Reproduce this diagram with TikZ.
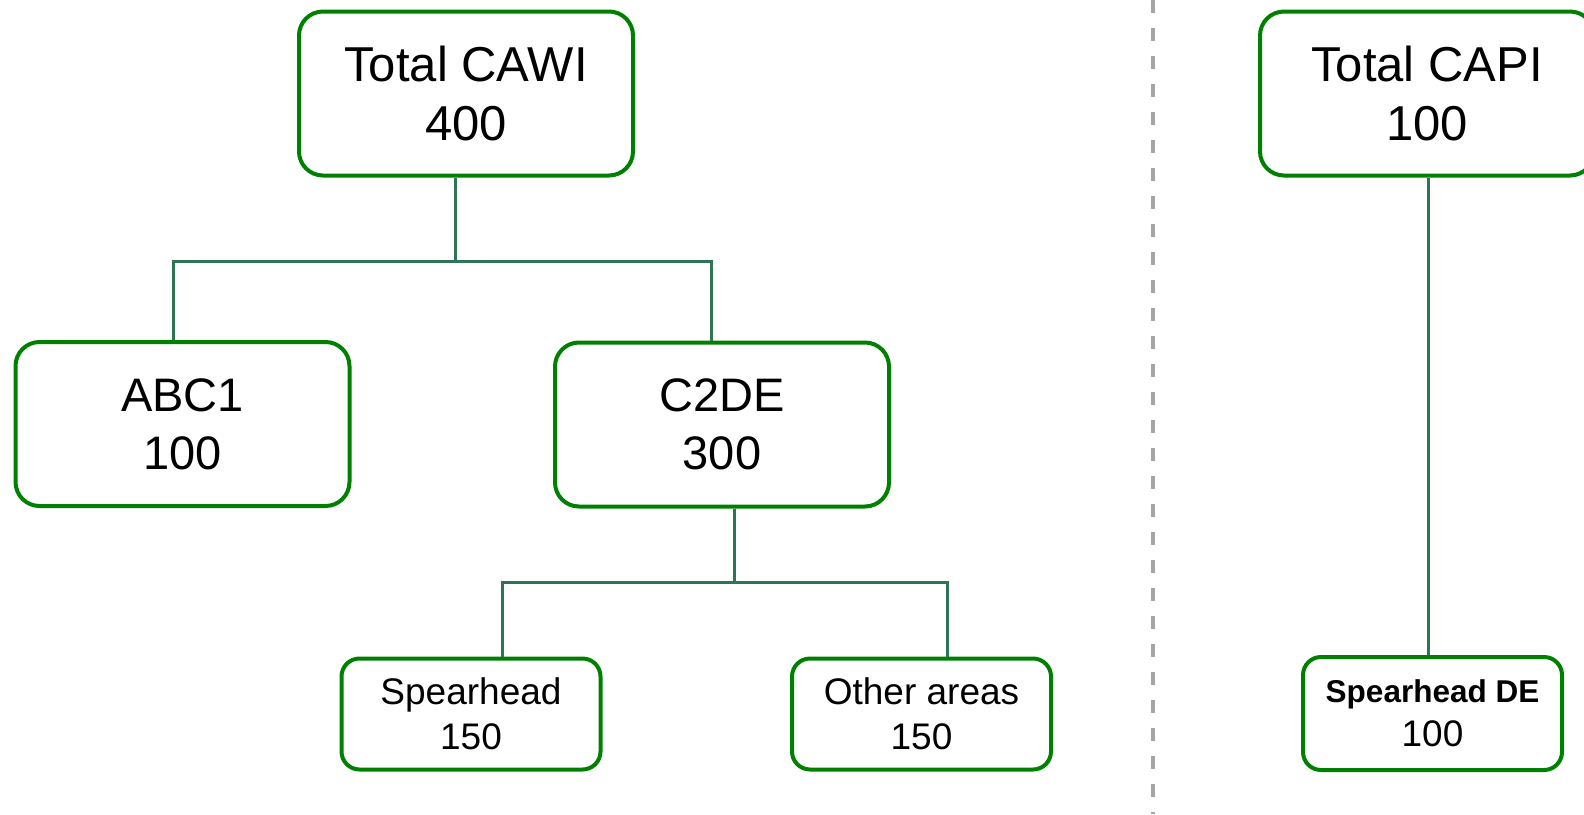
\documentclass[tikz,border=0pt]{standalone}
\usepackage{fontspec}
\setmainfont{Liberation Sans}
\usepackage{tikz}

\definecolor{boxgreen}{RGB}{0,128,0}
\definecolor{linkgreen}{RGB}{46,117,86}
\definecolor{sepgray}{RGB}{165,165,165}

\tikzset{
  bigbox/.style={draw=boxgreen, line width=4pt, rounded corners=24pt, fill=white,
    minimum width=334pt, minimum height=164pt, inner sep=0pt, align=center,
    font=\fontsize{47}{58}\selectfont},
  topbox/.style={bigbox, font=\fontsize{49}{59}\selectfont},
  smallbox/.style={draw=boxgreen, line width=4pt, rounded corners=18pt, fill=white,
    minimum width=259pt, minimum height=111pt, inner sep=0pt, align=center,
    font=\fontsize{37}{45}\selectfont},
  link/.style={draw=linkgreen, line width=3pt},
}

\begin{document}
\begin{tikzpicture}[x=1pt, y=-1pt]
\useasboundingbox (0,0) rectangle (1584,814);

% CAWI side
\node [topbox] (cawi) at (466,93.5) {Total CAWI\\400};
\node [bigbox] (abc) at (182.5,424) {ABC1\\100};
\node [bigbox] (c2de) at (722,424.5) {C2DE\\300};
\node [smallbox] (spear) at (471,714) {Spearhead\\150};
\node [smallbox] (other) at (921.5,714) {Other areas\\150};

\coordinate (cawijoin) at (455,261);
\coordinate (c2dejoin) at (734,582);

\draw [link] ([xshift=-11pt]cawi.south) -- (cawijoin);
\draw [link] ([xshift=-9.5pt]abc.north) |- (cawijoin) -| ([xshift=-11pt]c2de.north);
\draw [link] ([xshift=12pt]c2de.south) -- (c2dejoin);
\draw [link] ([xshift=31pt]spear.north) |- (c2dejoin) -| ([xshift=25.5pt]other.north);

% separator
\draw [sepgray, line width=3.5pt, dash pattern=on 13pt off 15pt] (1153,0) -- (1153,814);

% CAPI side
\node [topbox] (capi) at (1427,93.5) {Total CAPI\\100};
\node [smallbox, minimum height=113pt] (spearde) at (1432.5,713.5)
  {{\fontsize{31.5}{33}\selectfont\bfseries Spearhead DE}\\[-1pt]100};

\draw [link] ([xshift=1pt]capi.south) -- ([xshift=-4.5pt]spearde.north);

\end{tikzpicture}
\end{document}
